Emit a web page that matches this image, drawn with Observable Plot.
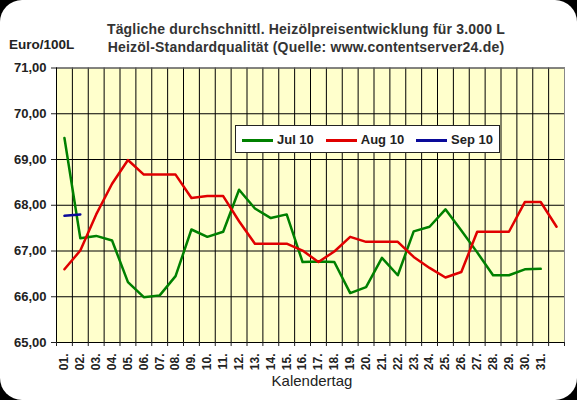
<!DOCTYPE html>
<html>
<head>
<meta charset="utf-8">
<script src="https://cdn.jsdelivr.net/npm/d3@7"></script>
<script src="https://cdn.jsdelivr.net/npm/@observablehq/plot@0.6"></script>
<style>
html, body { margin: 0; padding: 0; background: #000; }
#panel {
    position: relative; width: 577px; height: 400px; background: #fff;
    border-radius: 22px; overflow: hidden;
    font-family: "Liberation Sans", Arial, sans-serif; color: #222;
}
#head { position: relative; height: 58px; }
.title { position: absolute; left: 56px; width: 500px; text-align: center; font-size: 14px; font-weight: bold; letter-spacing: 0.2px; white-space: nowrap; color: #333; line-height: 16px; }
#unit { position: absolute; left: 9px; top: 37px; font-size: 13.5px; font-weight: bold; line-height: 16px; }
#chart svg { display: block; }
#caption { position: absolute; left: 252px; width: 120px; top: 372px; text-align: center; font-size: 15px; }
#legend {
    position: absolute; left: 235px; top: 125px; width: 263px; height: 26px;
    background: #fff; border: 1px solid #222; display: flex; align-items: center;
    justify-content: space-around; font-size: 13px; font-weight: bold;
}
#legend span.sw { display: inline-block; width: 31px; height: 3px; vertical-align: middle; margin-right: 4px; }
</style>
</head>
<body>
<div id="panel">
    <div id="head">
        <div class="title" style="top:21px">Tägliche durchschnittl. Heizölpreisentwicklung für 3.000 L</div>
        <div class="title" style="top:39px">Heizöl-Standardqualität (Quelle: www.contentserver24.de)</div>
        <div id="unit">Euro/100L</div>
    </div>
    <div id="chart"></div>
    <div id="legend"></div>
    <div id="caption">Kalendertag</div>
</div>
<script>
// day labels on the category axis (the last slot has no label)
const dayLabels = ["01.", "02.", "03.", "04.", "05.", "06.", "07.", "08.", "09.", "10.",
    "11.", "12.", "13.", "14.", "15.", "16.", "17.", "18.", "19.", "20.",
    "21.", "22.", "23.", "24.", "25.", "26.", "27.", "28.", "29.", "30.", "31.", ""];

const yTicks = [65, 66, 67, 68, 69, 70, 71];

const seriesNames = ["Jul 10", "Aug 10", "Sep 10"];
const seriesColors = ["#008000", "#e00000", "#0a0a9a"];

// Euro per 100 L
const jul10 = [69.47, 67.28, 67.33, 67.23, 66.32, 65.99, 66.03, 66.45, 67.47, 67.31,
    67.42, 68.34, 67.93, 67.72, 67.80, 66.76, 66.77, 66.76, 66.08, 66.21,
    66.85, 66.47, 67.43, 67.53, 67.91, 67.45, 66.97, 66.47, 66.47, 66.60, 66.61];
const aug10 = [66.60, 67.01, 67.80, 68.47, 68.99, 68.67, 68.67, 68.67, 68.16, 68.20,
    68.20, 67.65, 67.16, 67.16, 67.16, 67.01, 66.76, 66.99, 67.31, 67.20,
    67.20, 67.20, 66.87, 66.63, 66.42, 66.54, 67.42, 67.42, 67.42, 68.07, 68.07, 67.53];
const sep10 = [67.77, 67.80];

const renderChart = () => {
    const rows = [];
    [jul10, aug10, sep10].forEach((values, s) => {
        values.forEach((v, i) => rows.push({ day: i + 1, value: v, series: seriesNames[s] }));
    });

    const slots = dayLabels.map((d, i) => i + 1);
    const bounds = [...slots.map(d => d - 0.5), slots.length + 0.5]; // category edges for the grid
    const fmt = d => d.toFixed(2).replace(".", ",");

    const chart = Plot.plot({
        width: 577,
        height: 314,
        marginTop: 9.5,
        marginBottom: 30,
        marginLeft: 56,
        marginRight: 13,
        x: { domain: [bounds[0], bounds[bounds.length - 1]] },
        y: { domain: [yTicks[0], yTicks[yTicks.length - 1]] },
        color: { domain: seriesNames, range: seriesColors },
        style: { fontFamily: '"Liberation Sans", Arial, sans-serif', fontSize: "12px", color: "#222", background: "transparent", overflow: "visible" },
        marks: [
            Plot.frame({ fill: "#ffffcc" }),
            Plot.gridY({ ticks: yTicks, stroke: "#000", strokeOpacity: 1 }),
            Plot.gridX({ ticks: bounds, stroke: "#000", strokeOpacity: 1 }),
            Plot.frame({ stroke: "#888" }),
            Plot.ruleX([bounds[0]], { stroke: "#000" }),
            Plot.ruleY([yTicks[0]], { stroke: "#000" }),
            Plot.axisY({ ticks: yTicks, tickFormat: fmt, tickSize: 5, tickPadding: 5, fontSize: 13, fontWeight: "bold", label: null }),
            Plot.axisX({ ticks: bounds, tickFormat: () => "", tickSize: 4, label: null }),
            Plot.axisX({ ticks: slots, tickFormat: d => dayLabels[d - 1], tickSize: 0, tickPadding: 11, tickRotate: -90, fontWeight: "bold", label: null }),
            Plot.line(rows, { x: "day", y: "value", z: "series", stroke: "series", strokeWidth: 2.5 })
        ]
    });
    document.getElementById("chart").append(chart);

    // legend box sits inside the plot area
    const legend = document.getElementById("legend");
    seriesNames.forEach((name, i) => {
        const item = document.createElement("div");
        item.innerHTML = `<span class="sw" style="background:${seriesColors[i]}"></span>${name}`;
        legend.append(item);
    });
};

renderChart();
</script>
</body>
</html>
